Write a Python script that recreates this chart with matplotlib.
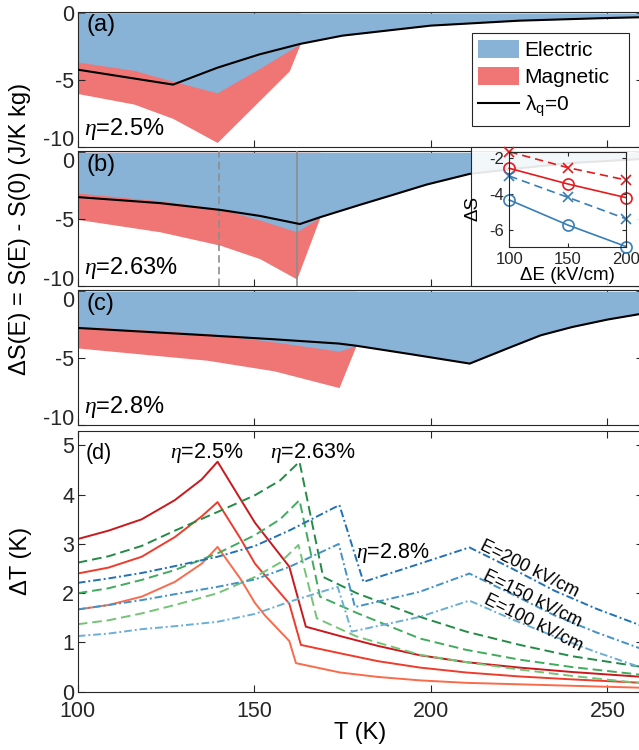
import numpy as np
import matplotlib
matplotlib.use('Agg')
import matplotlib.pyplot as plt
from matplotlib.patches import Patch, Rectangle
from matplotlib.lines import Line2D

plt.rcParams['font.family'] = ['Liberation Sans', 'DejaVu Sans']
plt.rcParams['mathtext.fontset'] = 'custom'
plt.rcParams['mathtext.rm'] = 'Liberation Sans'
plt.rcParams['mathtext.it'] = 'Liberation Serif:italic'
plt.rcParams['mathtext.bf'] = 'Liberation Sans:bold'
plt.rcParams['axes.unicode_minus'] = False

BLUE_FILL = '#88b2d6'
RED_FILL = '#f07676'
AX_COL = '#262626'

# ---- panels (a)-(c): entropy change, J/K kg ----
T_a_lq = [100, 113, 127, 139.5, 151.4, 163, 175, 200, 225, 250, 260]
S_a_lq = [-4.24, -4.78, -5.36, -4.1, -3.1, -2.31, -1.69, -0.94, -0.57, -0.37, -0.31]
T_a_el = [100, 115.9, 126.9, 139.5, 151.4, 163]
S_a_el = [-3.67, -4.29, -5.11, -5.98, -4.16, -2.31]
T_a_mag = [100, 115.9, 126.9, 139.5, 159.9, 163]
S_a_mag = [-6.03, -6.82, -7.89, -9.7, -4.34, -2.31]

T_b_lq = [100, 123.3, 140.4, 151.6, 162.9, 168.6, 179.9, 189.4, 198.8, 211, 225, 240, 260]
S_b_lq = [-3.36, -3.81, -4.32, -4.77, -5.38, -4.87, -3.94, -3.18, -2.42, -1.62, -1.2, -0.8, -0.5]
T_b_el = [100, 123.3, 140.4, 151.6, 162, 168.6]
S_b_el = [-3.05, -3.64, -4.24, -5.08, -5.96, -4.87]
T_b_mag = [100, 123.3, 140.4, 151.6, 162, 168.6]
S_b_mag = [-5.03, -5.96, -6.97, -7.98, -9.5, -4.87]
T_b_marks = [140.1, 162.0]

T_c_lq = [100, 136.7, 155.7, 174, 178.8, 194.4, 211, 222, 231.1, 240, 250, 260]
S_c_lq = [-2.75, -3.30, -3.6, -3.92, -4.08, -4.72, -5.42, -4.25, -3.30, -2.68, -2.12, -1.67]
T_c_el = [100, 136.7, 155.7, 174, 178.8]
S_c_el = [-2.62, -3.17, -3.8, -4.49, -4.08]
T_c_mag = [100, 136.7, 155.7, 174, 178.8]
S_c_mag = [-4.25, -5.17, -5.97, -7.22, -4.08]

# ---- inset: dS vs field ----
dE = [100, 150, 200]
in_red_o = [-2.59, -3.46, -4.22]
in_red_x = [-1.67, -2.55, -3.24]
in_blue_x = [-3.02, -4.2, -5.4]
in_blue_o = [-4.35, -5.74, -6.94]

# ---- panel (d): temperature change, K ----
T_r200 = [100, 108.7, 118.1, 127.5, 135.1, 139.6, 146, 150.2, 159.9, 164.6, 174.3, 185, 196.9, 210, 225, 240, 260]
dT_r200 = [3.10, 3.27, 3.50, 3.89, 4.31, 4.67, 3.92, 3.43, 2.54, 1.32, 1.13, 0.93, 0.74, 0.6, 0.49, 0.4, 0.3]
T_r150 = [100, 108.7, 118.1, 127.5, 135.1, 139.6, 146, 150.2, 159.9, 163.2, 174.3, 185, 196.9, 210, 225, 240, 260]
dT_r150 = [2.40, 2.52, 2.74, 3.14, 3.56, 3.85, 3.12, 2.60, 1.79, 0.95, 0.78, 0.62, 0.49, 0.39, 0.31, 0.25, 0.18]
T_r100 = [100, 108.7, 118.1, 127.5, 135.1, 139.6, 146, 150.2, 153, 159.9, 161.8, 174.3, 185, 196.9, 210, 225, 240, 260]
dT_r100 = [1.67, 1.76, 1.93, 2.23, 2.60, 2.94, 2.30, 1.80, 1.55, 1.03, 0.58, 0.39, 0.3, 0.23, 0.18, 0.15, 0.12, 0.08]

T_g200 = [100, 108.7, 118.1, 127.5, 139.6, 150.2, 157.3, 162.8, 169.5, 179, 196.9, 210, 225.2, 240, 260]
dT_g200 = [2.62, 2.75, 2.96, 3.27, 3.65, 3.99, 4.29, 4.67, 2.33, 2.0, 1.52, 1.22, 0.95, 0.72, 0.5]
T_g150 = [100, 108.7, 118.1, 127.5, 139.6, 150.2, 157.3, 162.8, 168.6, 179, 196.9, 210, 225.2, 240, 260]
dT_g150 = [2.00, 2.10, 2.27, 2.47, 2.81, 3.18, 3.50, 3.89, 1.93, 1.6, 1.08, 0.85, 0.65, 0.5, 0.34]
T_g100 = [100, 108.7, 118.1, 127.5, 139.6, 150.2, 157.3, 162.5, 167.7, 179, 196.9, 210, 225.2, 240, 260]
dT_g100 = [1.37, 1.45, 1.59, 1.76, 2.00, 2.33, 2.62, 2.98, 1.49, 1.12, 0.75, 0.6, 0.45, 0.32, 0.17]

T_b200 = [100, 108.7, 118.1, 127.5, 139.6, 150.2, 160.1, 174.1, 180.9, 196.9, 210.9, 223, 235, 247, 260]
dT_b200 = [2.21, 2.30, 2.41, 2.55, 2.74, 2.96, 3.28, 3.79, 2.23, 2.60, 2.93, 2.5, 2.05, 1.68, 1.33]
T_b150 = [100, 108.7, 118.1, 127.5, 139.6, 150.2, 160.1, 173.9, 178.5, 196.9, 210.9, 223, 235, 247, 260]
dT_b150 = [1.67, 1.76, 1.86, 1.98, 2.13, 2.28, 2.54, 3.0, 1.72, 2.03, 2.40, 1.98, 1.55, 1.2, 0.86]
T_b100 = [100, 108.7, 118.1, 127.5, 139.6, 150.2, 160.1, 173.6, 177.6, 196.9, 210.9, 223, 235, 247, 260]
dT_b100 = [1.13, 1.18, 1.27, 1.33, 1.42, 1.58, 1.83, 2.13, 1.22, 1.52, 1.85, 1.47, 1.12, 0.8, 0.48]


W, H = 639, 750
fig = plt.figure(figsize=(W / 100, H / 100), dpi=100)

def px_axes(x0, top, x1, bottom):
    return [x0 / W, 1 - bottom / H, (x1 - x0) / W, (bottom - top) / H]

def style(ax, fs=15.5, xpad=5.5, ypad=2.5, length=5):
    ax.tick_params(direction='in', top=True, right=True, length=length, width=0.8,
                   colors=AX_COL, labelsize=fs)
    ax.tick_params(axis='x', pad=xpad)
    ax.tick_params(axis='y', pad=ypad)
    for s in ax.spines.values():
        s.set_linewidth(0.8)
        s.set_color(AX_COL)

LEFT, RIGHT = 77.7, 642.8
tops = [12, 151.2, 290.2]
panels = [
    (T_a_el, S_a_el, T_a_mag, S_a_mag, T_a_lq, S_a_lq, '(a)', r'$\eta$=2.5%'),
    (T_b_el, S_b_el, T_b_mag, S_b_mag, T_b_lq, S_b_lq, '(b)', r'$\eta$=2.63%'),
    (T_c_el, S_c_el, T_c_mag, S_c_mag, T_c_lq, S_c_lq, '(c)', r'$\eta$=2.8%'),
]
axs = []
for i, (top, (Te, Se, Tm, Sm, Tl, Sl, lab, eta)) in enumerate(zip(tops, panels)):
    ax = fig.add_axes(px_axes(LEFT, top, RIGHT, top + 134.5))
    Tl = np.array(Tl)
    Sl = np.array(Sl)
    keep = Tl > Te[-1]
    T_full = np.concatenate([Te, Tl[keep]])
    S_full = np.concatenate([Se, Sl[keep]])
    ax.fill_between(Tm, Sm, 0, color=RED_FILL, lw=0, zorder=1)
    ax.fill_between(T_full, S_full, 0, color=BLUE_FILL, lw=0, zorder=2)
    ax.plot(Tl, Sl, color='black', lw=1.5, zorder=4)
    ax.set_xlim(100, 260)
    ax.set_ylim(-10, 0.08)
    ax.set_xticks([100, 150, 200, 250])
    ax.set_xticklabels([])
    ax.set_yticks([-10, -5, 0])
    ax.set_yticklabels(['-10', '-5', '0'])
    style(ax)
    # stacked panels: keep the end labels from colliding
    yt = ax.yaxis.get_major_ticks()
    yt[0].label1.set_va('baseline')
    if i > 0:
        yt[2].label1.set_va('top')
    ax.text(0.015, 0.9, lab, transform=ax.transAxes, fontsize=17, ha='left', va='center')
    ax.text(0.011, 0.13, eta, transform=ax.transAxes, fontsize=17, ha='left', va='center')
    axs.append(ax)

ax_a, ax_b, ax_c = axs
ax_b.axvline(T_b_marks[0], color='#8c8c8c', lw=1.2, ls=(0, (4.5, 2.5)), zorder=3)
ax_b.axvline(T_b_marks[1], color='#8c8c8c', lw=1.2, zorder=3)

handles = [Patch(facecolor=BLUE_FILL, edgecolor='none'),
           Patch(facecolor=RED_FILL, edgecolor='none'),
           Line2D([0], [0], color='black', lw=1.5)]
leg = ax_a.legend(handles, ['Electric', 'Magnetic', r'$\mathrm{\lambda_q}$=0'],
                  loc='upper left', bbox_to_anchor=(0.697, 0.152, 0.278, 0.69), mode='expand',
                  borderaxespad=0, fontsize=15, handlelength=2.0, handleheight=1.0,
                  handletextpad=0.25, borderpad=0.3, labelspacing=0.32,
                  fancybox=False, framealpha=1)
leg.get_frame().set_edgecolor(AX_COL)
leg.get_frame().set_linewidth(0.8)

fig.text(20 / W, 1 - 229 / H, 'ΔS(E) = S(E) - S(0) (J/K kg)', rotation=90,
         ha='center', va='center', fontsize=17, color='black')

# translucent box behind the inset
box = Rectangle((471 / W, 1 - 285.7 / H), (660 - 471) / W, (285.7 - 147) / H,
                transform=fig.transFigure, facecolor=(1, 1, 1, 0.9),
                edgecolor=AX_COL, lw=0.8, zorder=3)
fig.add_artist(box)

ax_in = fig.add_axes(px_axes(509.3, 152.3, 626, 246.7))
ax_in.set_zorder(4)
ax_in.patch.set_alpha(0)
RED_IN = '#e41a1c'
BLUE_IN = '#377eb8'
ax_in.plot(dE, in_red_x, ls=(0, (5, 3)), color=RED_IN, marker='x', ms=7, mew=1.2, lw=1.2, clip_on=False)
ax_in.plot(dE, in_red_o, ls='-', color=RED_IN, marker='o', ms=8, mfc='none', mew=1.2, lw=1.2, clip_on=False)
ax_in.plot(dE, in_blue_x, ls=(0, (5, 3)), color=BLUE_IN, marker='x', ms=7, mew=1.2, lw=1.2, clip_on=False)
ax_in.plot(dE, in_blue_o, ls='-', color=BLUE_IN, marker='o', ms=8, mfc='none', mew=1.2, lw=1.2, clip_on=False)
ax_in.set_xlim(100, 200)
ax_in.set_ylim(-6.95, -1.7)
ax_in.set_xticks([100, 150, 200])
ax_in.set_yticks([-6, -4, -2])
ax_in.set_yticklabels(['-6', '-4', '-2'])
style(ax_in, fs=12, xpad=4, ypad=4, length=3)
ax_in.set_xlabel('ΔE (kV/cm)', fontsize=13.5, labelpad=0)
ax_in.set_ylabel('ΔS', fontsize=13.5)
ax_in.yaxis.set_label_coords(-0.24, 0.41)

# ---- panel (d) ----
ax_d = fig.add_axes(px_axes(LEFT, 430.7, RIGHT, 691.7))
LW = 1.4
DASH = (0, (5, 2.5))
DASHDOT = (0, (4, 1.5, 1, 1.5))
ax_d.plot(T_r200, dT_r200, color='#cb181d', lw=LW)
ax_d.plot(T_r150, dT_r150, color='#ef3b2c', lw=LW)
ax_d.plot(T_r100, dT_r100, color='#fb6a4a', lw=LW)
ax_d.plot(T_g200, dT_g200, color='#238b45', lw=LW, ls=DASH)
ax_d.plot(T_g150, dT_g150, color='#41ab5d', lw=LW, ls=DASH)
ax_d.plot(T_g100, dT_g100, color='#74c476', lw=LW, ls=DASH)
ax_d.plot(T_b200, dT_b200, color='#2171b5', lw=LW, ls=DASHDOT)
ax_d.plot(T_b150, dT_b150, color='#4292c6', lw=LW, ls=DASHDOT)
ax_d.plot(T_b100, dT_b100, color='#6baed6', lw=LW, ls=DASHDOT)
ax_d.set_xlim(100, 260)
ax_d.set_ylim(0, 5.3)
ax_d.set_xticks([100, 150, 200, 250])
ax_d.set_yticks([0, 1, 2, 3, 4, 5])
style(ax_d, xpad=7)
ax_d.set_xlabel('T (K)', fontsize=17, labelpad=0)
fig.text(21 / W, 1 - 561 / H, 'ΔT (K)', rotation=90, ha='center', va='center', fontsize=17)

ax_d.text(102.3, 4.84, '(d)', fontsize=15.5, ha='left', va='center')
ax_d.text(136.6, 4.84, r'$\eta$=2.5%', fontsize=15.5, ha='center', va='center')
ax_d.text(166.4, 4.84, r'$\eta$=2.63%', fontsize=15.5, ha='center', va='center')
ax_d.text(189.3, 2.81, r'$\eta$=2.8%', fontsize=15.5, ha='center', va='center')
ax_d.text(227.8, 2.50, 'E=200 kV/cm', fontsize=13, rotation=-26.5, ha='center', va='center',
          rotation_mode='anchor')
ax_d.text(228.6, 1.89, 'E=150 kV/cm', fontsize=13, rotation=-26.5, ha='center', va='center',
          rotation_mode='anchor')
ax_d.text(229.1, 1.39, 'E=100 kV/cm', fontsize=13, rotation=-26.5, ha='center', va='center',
          rotation_mode='anchor')

fig.savefig('out.png', dpi=100)
